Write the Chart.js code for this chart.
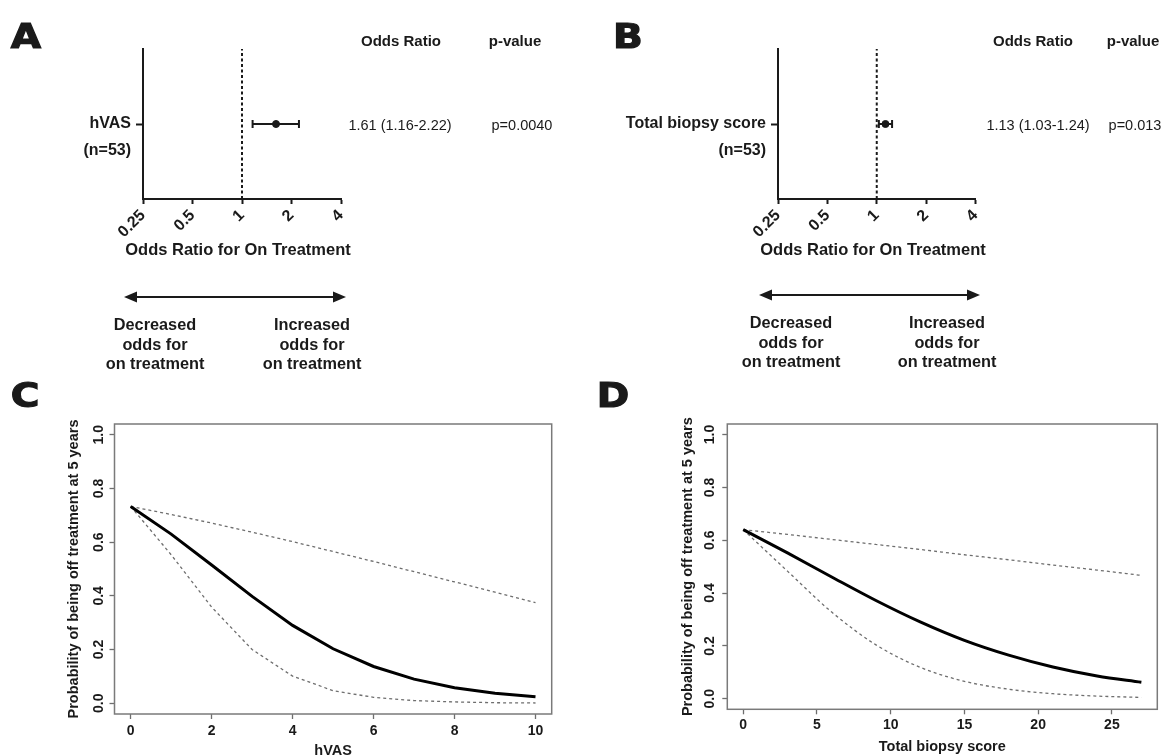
<!DOCTYPE html>
<html>
<head>
<meta charset="utf-8">
<script src="https://cdn.jsdelivr.net/npm/chart.js@4.4.1/dist/chart.umd.min.js"></script>
<style>
  html, body { margin: 0; padding: 0; background: #fff; }
  #fig { position: relative; width: 1165px; height: 756px; overflow: hidden;
         font-family: 'Liberation Sans', Arial, sans-serif; color: #1a1a1a; }
  canvas { position: absolute; }
  .txt { position: absolute; transform: translate(-50%, -50%); white-space: nowrap; line-height: 1; }
  .letter { font-family: 'DejaVu Sans', sans-serif; font-weight: bold; font-size: 34px;
            -webkit-text-stroke: 1.2px #1a1a1a;
            transform: translate(-50%, -50%) scaleX(1.15); }
  .hdr { font-weight: bold; font-size: 15px; }
  .val { font-size: 14.5px; }
  .axt { font-weight: bold; font-size: 16.5px; }
  .dir { font-weight: bold; font-size: 16.3px; line-height: 19.5px; text-align: center; }
</style>
</head>
<body>
<div id="fig">
  <canvas id="forestA" width="580" height="400" style="left:0;top:0"></canvas>
  <canvas id="forestB" width="585" height="400" style="left:580px;top:0"></canvas>
  <canvas id="curveC" width="580" height="360" style="left:0;top:400px"></canvas>
  <canvas id="curveD" width="585" height="356" style="left:580px;top:400px"></canvas>

  <div class="txt letter" style="left:26px;top:36px">A</div>
  <div class="txt letter" style="left:628px;top:36px">B</div>
  <div class="txt letter" style="left:25px;top:395px">C</div>
  <div class="txt letter" style="left:613px;top:395px">D</div>

  <div class="txt hdr" style="left:401px;top:40px">Odds Ratio</div>
  <div class="txt hdr" style="left:515px;top:40px">p-value</div>
  <div class="txt val" style="left:400px;top:125px">1.61 (1.16-2.22)</div>
  <div class="txt val" style="left:522px;top:125px">p=0.0040</div>
  <div class="txt axt" style="left:238px;top:249px">Odds Ratio for On Treatment</div>

  <div class="txt hdr" style="left:1033px;top:40px">Odds Ratio</div>
  <div class="txt hdr" style="left:1133px;top:40px">p-value</div>
  <div class="txt val" style="left:1038px;top:125px">1.13 (1.03-1.24)</div>
  <div class="txt val" style="left:1135px;top:125px">p=0.013</div>
  <div class="txt axt" style="left:873px;top:249px">Odds Ratio for On Treatment</div>

  <div class="txt dir" style="left:155px;top:344px">Decreased<br>odds for<br>on treatment</div>
  <div class="txt dir" style="left:312px;top:344px">Increased<br>odds for<br>on treatment</div>
  <div class="txt dir" style="left:791px;top:342px">Decreased<br>odds for<br>on treatment</div>
  <div class="txt dir" style="left:947px;top:342px">Increased<br>odds for<br>on treatment</div>
</div>

<script>
// forest plots (panels A, B)
const orTicks = [0.25, 0.5, 1, 2, 4];
const orTickLabels = ['0.25', '0.5', '1', '2', '4'];
const hvasLabel = ['hVAS', '(n=53)'];
const hvasOR = [1.61, 1.16, 2.22];      // estimate, lower, upper
const biopsyLabel = ['Total biopsy score', '(n=53)'];
const biopsyOR = [1.13, 1.03, 1.24];

// predicted probability curves (panels C, D)
const hvasX = [0, 1, 2, 3, 4, 5, 6, 7, 8, 9, 10];
const hvasFit = [0.733, 0.630, 0.515, 0.398, 0.290, 0.203, 0.137, 0.090, 0.058, 0.037, 0.024];
const hvasUpper = [0.733, 0.703, 0.671, 0.637, 0.602, 0.565, 0.528, 0.490, 0.452, 0.414, 0.375];
const hvasLower = [0.733, 0.553, 0.358, 0.200, 0.101, 0.047, 0.022, 0.010, 0.005, 0.002, 0.001];
const hvasTicks = [0, 2, 4, 6, 8, 10];

const biopsyX = [0, 3, 6, 9, 12, 15, 18, 21, 24, 27];
const biopsyFit = [0.640, 0.552, 0.461, 0.372, 0.291, 0.221, 0.165, 0.120, 0.086, 0.062];
const biopsyUpper = [0.640, 0.622, 0.603, 0.584, 0.565, 0.545, 0.526, 0.506, 0.487, 0.467];
const biopsyLower = [0.640, 0.483, 0.328, 0.204, 0.119, 0.066, 0.036, 0.019, 0.010, 0.005];
const biopsyTicks = [0, 5, 10, 15, 20, 25];

const probTicks = [0, 0.2, 0.4, 0.6, 0.8, 1.0];
const probTickLabels = ['0.0', '0.2', '0.4', '0.6', '0.8', '1.0'];

const FONT = "'Liberation Sans', Arial, sans-serif";
const INK = '#1a1a1a';

const frame = {
    id: 'frame',
    afterDatasetsDraw(chart, args, opts) {
        const { ctx, chartArea: a } = chart;
        ctx.save();
        ctx.strokeStyle = opts.color;
        ctx.lineWidth = opts.width;
        ctx.strokeRect(a.left, a.top, a.right - a.left, a.bottom - a.top);
        ctx.restore();
    }
};

const arrow = {
    id: 'arrow',
    afterDraw(chart, args, o) {
        const ctx = chart.ctx;
        ctx.save();
        ctx.strokeStyle = INK;
        ctx.fillStyle = INK;
        ctx.lineWidth = 2;
        ctx.beginPath();
        ctx.moveTo(o.x1 + 6, o.y);
        ctx.lineTo(o.x2 - 6, o.y);
        ctx.stroke();
        [[o.x1, 1], [o.x2, -1]].forEach(([x, d]) => {
            ctx.beginPath();
            ctx.moveTo(x, o.y);
            ctx.lineTo(x + d * 13, o.y - 5.5);
            ctx.lineTo(x + d * 13, o.y + 5.5);
            ctx.closePath();
            ctx.fill();
        });
        ctx.restore();
    }
};

function forestChart(id, label, or, layout, arrowPos) {
    const [est, lo, hi] = or;
    return new Chart(document.getElementById(id), {
        type: 'scatter',
        data: {
            datasets: [
                {
                    data: [{ x: est, y: 1 }],
                    pointRadius: 3.5,
                    backgroundColor: INK,
                    borderColor: INK
                },
                {
                    data: [{ x: lo, y: 1 }, { x: hi, y: 1 }],
                    showLine: true,
                    borderColor: INK,
                    borderWidth: 2,
                    pointStyle: 'line',
                    pointRotation: 90,
                    pointRadius: 4,
                    pointBorderWidth: 2,
                    pointBorderColor: INK
                },
                {
                    data: [{ x: 1, y: 0 }, { x: 1, y: 2 }],
                    showLine: true,
                    borderColor: INK,
                    borderWidth: 2,
                    borderDash: [3, 2.5],
                    pointRadius: 0
                }
            ]
        },
        options: {
            responsive: false,
            animation: false,
            events: [],
            layout: { padding: layout.padding },
            plugins: { legend: { display: false }, tooltip: { enabled: false }, arrow: arrowPos },
            scales: {
                x: {
                    type: 'logarithmic',
                    min: 0.25,
                    max: 4,
                    afterBuildTicks: s => { s.ticks = orTicks.map(v => ({ value: v })); },
                    afterFit: s => { s.height = 60; },
                    ticks: {
                        minRotation: 45,
                        maxRotation: 45,
                        autoSkip: false,
                        padding: 2,
                        color: INK,
                        font: { family: FONT, size: 16, weight: 'bold' },
                        callback: (v, i) => orTickLabels[i]
                    },
                    grid: { drawOnChartArea: false, tickLength: 5, tickWidth: 2, tickColor: INK },
                    border: { color: INK, width: 2 }
                },
                y: {
                    type: 'linear',
                    min: 0,
                    max: 2,
                    afterBuildTicks: s => { s.ticks = [{ value: 1 }]; },
                    afterFit: s => { s.width = layout.yWidth; },
                    ticks: {
                        padding: 5,
                        color: INK,
                        font: { family: FONT, size: 16, weight: 'bold', lineHeight: 1.65 },
                        callback: () => [''].concat(label)
                    },
                    grid: { drawOnChartArea: false, tickLength: 7, tickWidth: 2, tickColor: INK },
                    border: { color: INK, width: 2 }
                }
            }
        },
        plugins: [arrow]
    });
}

function curveChart(id, xs, fit, upper, lower, cfg) {
    const pts = ys => xs.map((x, i) => ({ x: x, y: ys[i] }));
    const band = {
        showLine: true,
        borderColor: '#6e6e6e',
        borderWidth: 1.3,
        borderDash: [3, 3],
        pointRadius: 0,
        cubicInterpolationMode: cfg.smooth ? 'monotone' : 'default'
    };
    return new Chart(document.getElementById(id), {
        type: 'scatter',
        data: {
            datasets: [
                {
                    data: pts(fit),
                    showLine: true,
                    borderColor: '#000',
                    borderWidth: 3,
                    pointRadius: 0,
                    cubicInterpolationMode: cfg.smooth ? 'monotone' : 'default'
                },
                Object.assign({ data: pts(upper) }, band),
                Object.assign({ data: pts(lower) }, band)
            ]
        },
        options: {
            responsive: false,
            animation: false,
            events: [],
            layout: { padding: { left: 0, top: 24, right: cfg.padRight, bottom: 0 } },
            plugins: {
                legend: { display: false },
                tooltip: { enabled: false },
                frame: { color: '#7a7a7a', width: 1.5 }
            },
            scales: {
                x: {
                    type: 'linear',
                    min: cfg.xMin,
                    max: cfg.xMax,
                    afterBuildTicks: s => { s.ticks = cfg.xTicks.map(v => ({ value: v })); },
                    afterFit: s => { s.height = cfg.xAxisH; },
                    ticks: { padding: cfg.xPad, color: INK, font: { family: FONT, size: 14, weight: 'bold' } },
                    grid: { drawOnChartArea: false, tickLength: 5, tickWidth: 1.3, tickColor: '#6e6e6e' },
                    border: { display: false },
                    title: {
                        display: true,
                        text: cfg.xTitle,
                        color: INK,
                        font: { family: FONT, size: 14.5, weight: 'bold' },
                        padding: { top: 0, bottom: cfg.xTitlePad }
                    }
                },
                y: {
                    type: 'linear',
                    min: -0.04,
                    max: 1.04,
                    afterBuildTicks: s => { s.ticks = probTicks.map(v => ({ value: v })); },
                    afterFit: s => { s.width = cfg.yWidth; },
                    ticks: {
                        minRotation: 90,
                        maxRotation: 90,
                        crossAlign: 'center',
                        padding: cfg.yPad,
                        color: INK,
                        font: { family: FONT, size: 14, weight: 'bold' },
                        callback: (v, i) => probTickLabels[i]
                    },
                    grid: { drawOnChartArea: false, tickLength: 5, tickWidth: 1.3, tickColor: '#6e6e6e' },
                    border: { display: false },
                    title: {
                        display: true,
                        text: 'Probability of being off treatment at 5 years',
                        color: INK,
                        font: { family: FONT, size: 14.5, weight: 'bold' },
                        padding: { top: cfg.yTitlePad, bottom: 0 }
                    }
                }
            }
        },
        plugins: [frame]
    });
}

forestChart('forestA', hvasLabel, hvasOR,
    { yWidth: 143, padding: { left: 0, top: 49, right: 239, bottom: 141 } },
    { x1: 124, x2: 346, y: 297 });
forestChart('forestB', biopsyLabel, biopsyOR,
    { yWidth: 198, padding: { left: 0, top: 49, right: 189.5, bottom: 141 } },
    { x1: 179, x2: 400, y: 295 });

curveChart('curveC', hvasX, hvasFit, hvasUpper, hvasLower, {
    smooth: false, xMin: -0.4, xMax: 10.4, xTicks: hvasTicks, xTitle: 'hVAS',
    padRight: 28.3, yWidth: 114.5, xAxisH: 46, xPad: 3.3, xTitlePad: 0.5, yPad: 0.8, yTitlePad: 65
});
curveChart('curveD', biopsyX, biopsyFit, biopsyUpper, biopsyLower, {
    smooth: true, xMin: -1.08, xMax: 28.08, xTicks: biopsyTicks, xTitle: 'Total biopsy score',
    padRight: 7.7, yWidth: 147.3, xAxisH: 46.7, xPad: 2.3, xTitlePad: 0, yPad: 2.6, yTitlePad: 99
});
</script>
</body>
</html>
